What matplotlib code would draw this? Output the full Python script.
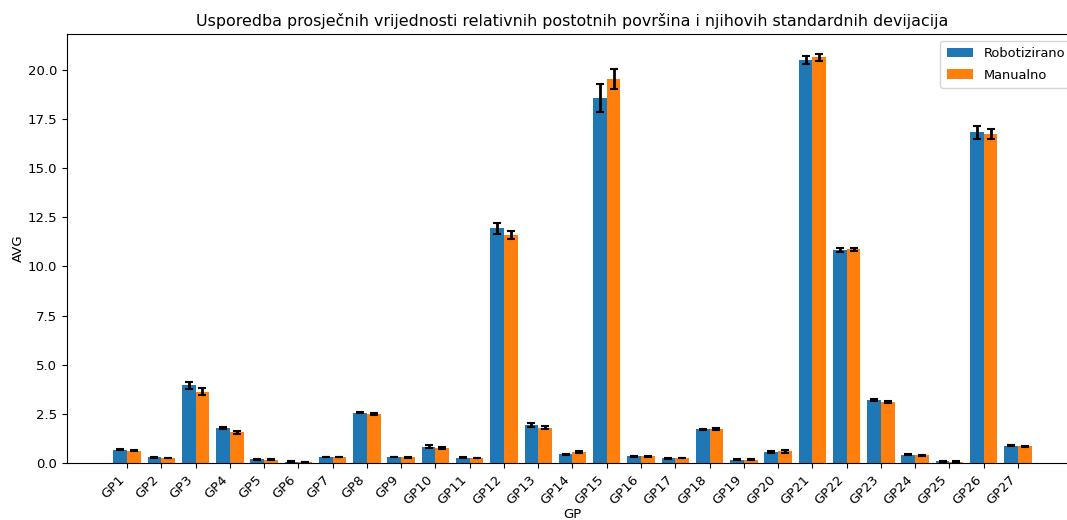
import matplotlib
matplotlib.use("Agg")
import matplotlib.pyplot as plt
import numpy as np

categories = [f"GP{i}" for i in range(1, 28)]
robot_avg = [0.68, 0.29, 3.95, 1.77, 0.19, 0.07, 0.31, 2.56, 0.31, 0.84,
             0.27, 11.94, 1.93, 0.45, 18.57, 0.34, 0.25, 1.72, 0.17, 0.54,
             20.50, 10.84, 3.20, 0.43, 0.08, 16.82, 0.88]
robot_std = [0.04, 0.02, 0.17, 0.06, 0.03, 0.01, 0.02, 0.04, 0.02, 0.07,
             0.03, 0.28, 0.10, 0.03, 0.72, 0.02, 0.03, 0.03, 0.02, 0.05,
             0.22, 0.08, 0.04, 0.02, 0.01, 0.35, 0.03]
manual_avg = [0.63, 0.26, 3.63, 1.56, 0.17, 0.06, 0.31, 2.48, 0.30, 0.75,
              0.25, 11.59, 1.80, 0.55, 19.53, 0.34, 0.25, 1.72, 0.16, 0.60,
              20.64, 10.87, 3.10, 0.40, 0.07, 16.74, 0.85]
manual_std = [0.04, 0.02, 0.17, 0.09, 0.02, 0.01, 0.02, 0.05, 0.02, 0.04,
              0.02, 0.20, 0.08, 0.05, 0.50, 0.02, 0.02, 0.04, 0.02, 0.07,
              0.16, 0.08, 0.03, 0.03, 0.01, 0.24, 0.03]

fig = plt.figure(figsize=(10.67, 5.2), dpi=100)
ax = fig.add_axes([0.0628, 0.1096, 0.9475, 0.825])

x = np.arange(len(categories))
w = 0.4
err_kw = dict(ecolor="black", elinewidth=2, capsize=3, capthick=1.5)
ax.bar(x - w / 2, robot_avg, w, yerr=robot_std, color="#1f77b4",
       label="Robotizirano", error_kw=err_kw)
ax.bar(x + w / 2, manual_avg, w, yerr=manual_std, color="#ff7f0e",
       label="Manualno", error_kw=err_kw)

ax.set_xticks(x)
ax.set_xticklabels(categories, rotation=45, ha="right", fontsize=9.5)
ax.tick_params(axis="y", labelsize=9.5)
ax.set_xlim(-1.75, len(categories) - 1 + 1.75)
ax.set_ylim(0, 21.83)
ax.set_xlabel("GP", fontsize=9.5, labelpad=1)
ax.set_ylabel("AVG", fontsize=9.5, labelpad=2)
ax.set_title("Usporedba prosječnih vrijednosti relativnih postotnih površina i njihovih standardnih devijacija", fontsize=11.4)
ax.legend(loc="upper right", fontsize=9.4, labelspacing=0.65, borderpad=0.5)

fig.savefig("out.png", dpi=100)
